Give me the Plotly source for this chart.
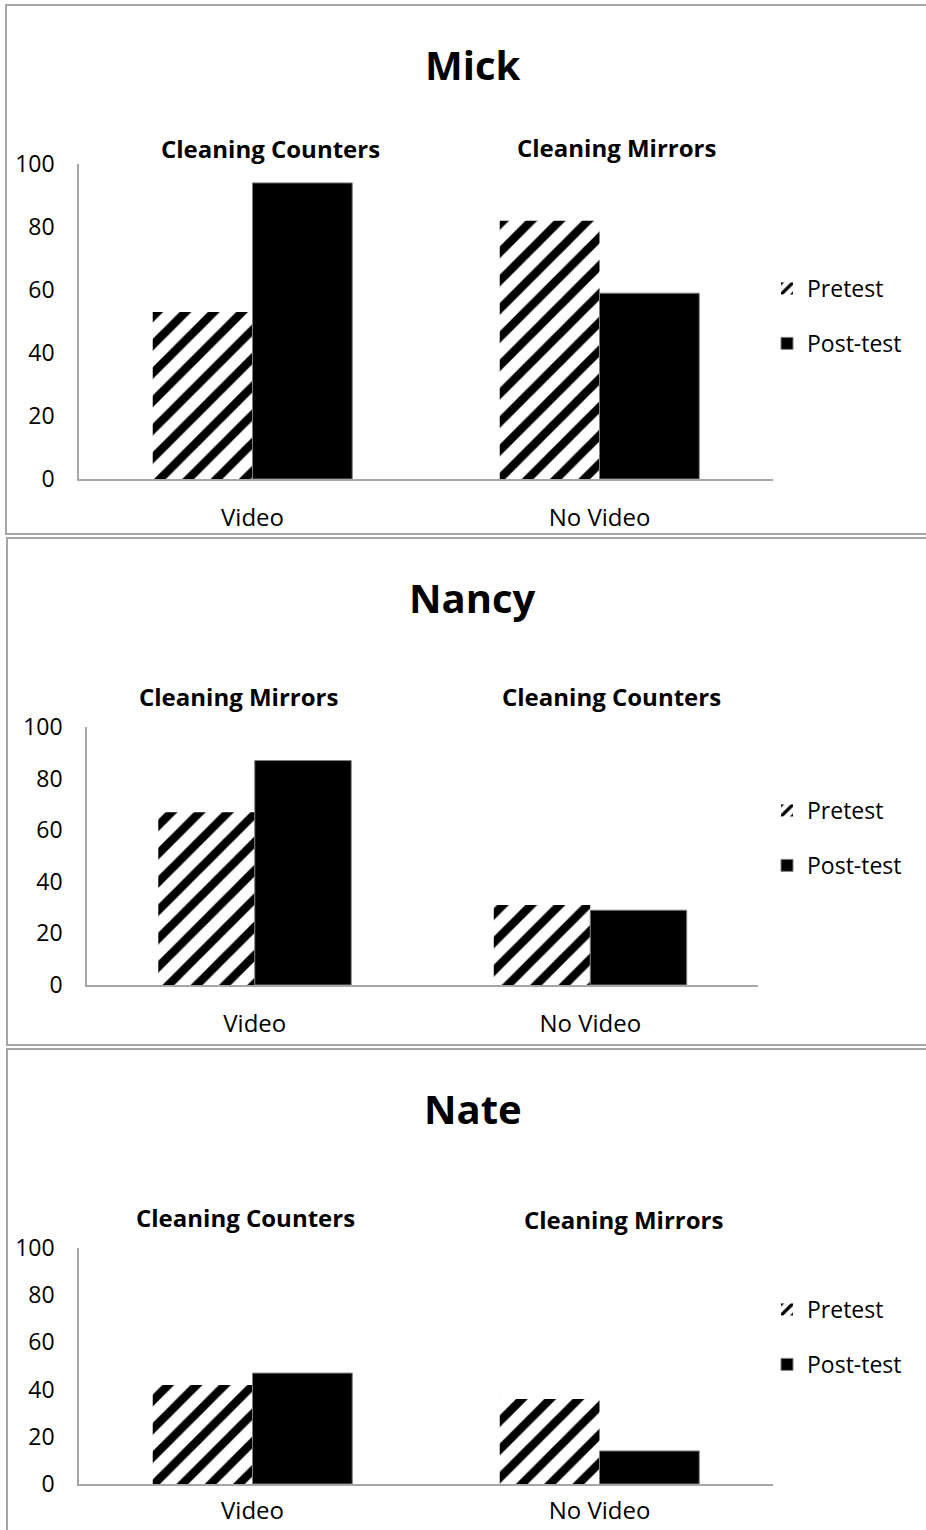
import plotly.graph_objects as go

W, H = 926, 1530

categories = ["Video", "No Video"]
series_names = ["Pretest", "Post-test"]

mick_pretest = [53, 82]
mick_posttest = [94, 59]
nancy_pretest = [67, 31]
nancy_posttest = [87, 29]
nate_pretest = [42, 36]
nate_posttest = [47, 14]

panel_titles = ["Mick", "Nancy", "Nate"]
task_labels = [
    ["Cleaning Counters", "Cleaning Mirrors"],
    ["Cleaning Mirrors", "Cleaning Counters"],
    ["Cleaning Counters", "Cleaning Mirrors"],
]
y_ticks = [0, 20, 40, 60, 80, 100]

FONT = "Open Sans"
AXIS_GRAY = "#a6a6a6"


def px(x):
    return x / W


def py(y):
    return 1 - y / H


# pixel layout of each panel: plot area (x0, x1, ytop, ybottom)
panels = [
    dict(x0=79, x1=773, yt=164, yb=479, title_y=65,
         task_pos=[(270, 149), (616, 148)], leg_y=316, xstand=16,
         border=(6, 5, 945, 534)),
    dict(x0=87, x1=758, yt=727, yb=985, title_y=598,
         task_pos=[(238, 697), (611, 697)], leg_y=838, xstand=16,
         border=(7, 538, 945, 1045)),
    dict(x0=79, x1=773, yt=1248, yb=1484, title_y=1108,
         task_pos=[(245, 1217), (623, 1219)], leg_y=1337, xstand=4,
         border=(7, 1049, 945, 1560)),
]

data = [
    (mick_pretest, mick_posttest),
    (nancy_pretest, nancy_posttest),
    (nate_pretest, nate_posttest),
]

fig = go.Figure()
layout = dict(
    template="none",
    width=W, height=H, autosize=False,
    margin=dict(l=0, r=0, t=0, b=0, pad=0, autoexpand=False),
    paper_bgcolor="white", plot_bgcolor="white",
    barmode="group", bargap=0.425, bargroupgap=0,
    font=dict(family=FONT, color="black", size=23),
    showlegend=True,
)
annotations = []
shapes = []

for i, (p, (pre, post)) in enumerate(zip(panels, data)):
    sfx = "" if i == 0 else str(i + 1)
    xa = "x" + sfx
    ya = "y" + sfx
    leg = "legend" + sfx
    fig.add_trace(go.Bar(
        x=categories, y=pre, name=series_names[0],
        xaxis=xa, yaxis=ya, legend=leg, legendgroup="pre" + sfx,
        marker=dict(color="white", line=dict(width=0),
                    pattern=dict(shape="/", fgcolor="black", bgcolor="white",
                                 size=20, solidity=0.42, fillmode="replace")),
        hoverinfo="skip",
    ))
    fig.add_trace(go.Bar(
        x=categories, y=post, name=series_names[1],
        xaxis=xa, yaxis=ya, legend=leg, legendgroup="post" + sfx,
        marker=dict(color="black", line=dict(width=1, color="#7f7f7f")),
        hoverinfo="skip",
    ))
    layout["xaxis" + sfx] = dict(
        domain=[px(p["x0"]), px(p["x1"])], anchor=ya,
        type="category", range=[-0.5, 1.5], automargin=False,
        showline=True, linecolor=AXIS_GRAY, linewidth=1.5,
        showgrid=False, ticks="", zeroline=False,
        tickfont=dict(size=24, family=FONT, color="black"),
        ticklabelstandoff=p["xstand"], fixedrange=True,
    )
    layout["yaxis" + sfx] = dict(
        domain=[py(p["yb"]), py(p["yt"])], anchor=xa,
        range=[0, 100], tickvals=y_ticks, automargin=False,
        showline=True, linecolor=AXIS_GRAY, linewidth=1.5,
        showgrid=False, ticks="", zeroline=False,
        tickfont=dict(size=23, family=FONT, color="black"),
        ticklabelstandoff=18, fixedrange=True,
    )
    layout[leg] = dict(
        x=px(767), xanchor="left", y=py(p["leg_y"]), yanchor="middle",
        font=dict(size=23, family=FONT, color="black"),
        bgcolor="rgba(0,0,0,0)", borderwidth=0,
        tracegroupgap=22, itemwidth=30, traceorder="grouped",
    )
    annotations.append(dict(
        text="<b>%s</b>" % panel_titles[i], x=px(473), y=py(p["title_y"]),
        xref="paper", yref="paper", xanchor="center", yanchor="middle",
        showarrow=False, font=dict(size=40, family=FONT, color="black"),
    ))
    for (tx, ty), lab in zip(p["task_pos"], task_labels[i]):
        annotations.append(dict(
            text="<b>%s</b>" % lab, x=px(tx), y=py(ty),
            xref="paper", yref="paper", xanchor="center", yanchor="middle",
            showarrow=False, font=dict(size=24, family=FONT, color="black"),
        ))
    bx0, by0, bx1, by1 = p["border"]
    shapes.append(dict(
        type="rect", xref="paper", yref="paper",
        x0=px(bx0), x1=px(bx1), y0=py(by1), y1=py(by0),
        line=dict(color=AXIS_GRAY, width=2), fillcolor="rgba(0,0,0,0)",
        layer="above",
    ))

layout["annotations"] = annotations
layout["shapes"] = shapes
fig.update_layout(**layout)

fig.write_html("out.html", config={"displayModeBar": False})
